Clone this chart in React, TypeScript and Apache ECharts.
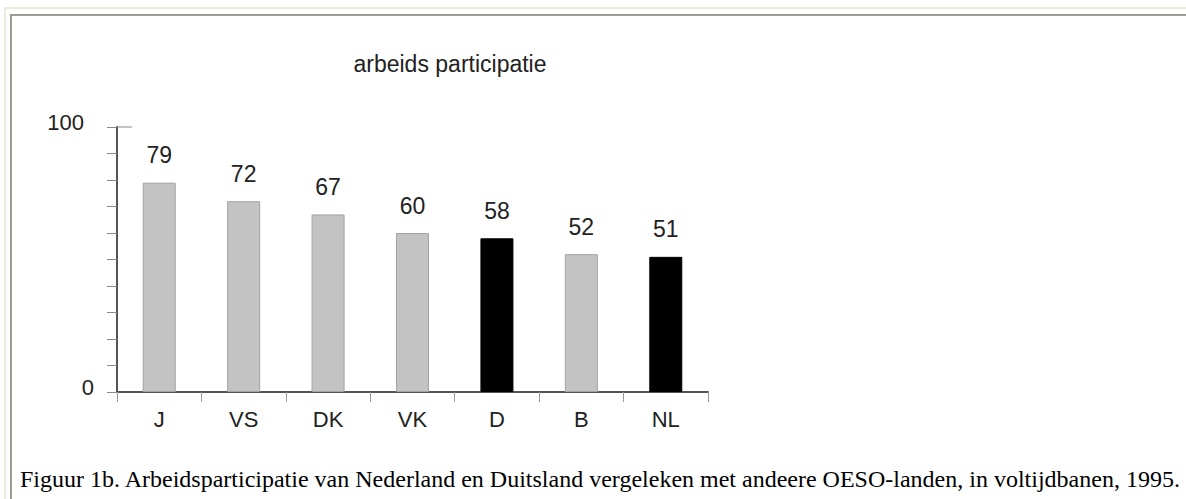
import React, { useEffect, useRef } from "react";
import * as echarts from "echarts";

const categories = ["J", "VS", "DK", "VK", "D", "B", "NL"];
const values = [79, 72, 67, 60, 58, 52, 51];
const highlighted = [false, false, false, false, true, false, true];
const yTickLabels = [0, 100];
const chartTitle = "arbeids participatie";
const caption =
  "Figuur 1b. Arbeidsparticipatie van Nederland en Duitsland vergeleken met andeere OESO-landen, in voltijdbanen, 1995.";

const SANS = "'Liberation Sans', Arial, Helvetica, sans-serif";
const SERIF = "'Liberation Serif', 'Times New Roman', serif";

export default function App() {
  const ref = useRef<HTMLDivElement>(null);

  useEffect(() => {
    if (!ref.current) return;
    const chart = echarts.init(ref.current, null, { renderer: "svg" });

    const data = values.map((v, i) => ({
      value: v,
      itemStyle: highlighted[i]
        ? { color: "#000000", borderColor: "#000000", borderWidth: 1 }
        : { color: "#c3c3c3", borderColor: "#a2a2a2", borderWidth: 1 },
    }));

    const frameAndText: any[] = [
      {
        type: "rect",
        silent: true,
        shape: { x: 5, y: 8, width: 1300, height: 600 },
        style: { fill: "none", stroke: "#eeebda", lineWidth: 2 },
      },
      {
        type: "rect",
        silent: true,
        shape: { x: 11, y: 15, width: 1300, height: 600 },
        style: { fill: "none", stroke: "#9c9c94", lineWidth: 2 },
      },
      {
        type: "text",
        silent: true,
        x: 450,
        y: 64,
        style: {
          text: chartTitle,
          fontSize: 23,
          fontFamily: SANS,
          fill: "#222222",
          align: "center",
          verticalAlign: "middle",
        },
      },
      {
        type: "text",
        silent: true,
        x: 20,
        y: 479,
        style: {
          text: caption,
          fontSize: 24,
          fontFamily: SERIF,
          fill: "#000000",
          align: "left",
          verticalAlign: "middle",
        },
      },
    ];

    chart.setOption({
      animation: false,
      backgroundColor: "#ffffff",
      grid: { left: 117, top: 127, width: 591, height: 265, containLabel: false },
      xAxis: {
        type: "category",
        data: categories,
        axisLine: { show: true, lineStyle: { color: "#555555", width: 2 } },
        axisTick: { show: true, alignWithLabel: false, length: 10, lineStyle: { color: "#9a9a9a", width: 1 } },
        axisLabel: { fontSize: 22, fontFamily: SANS, color: "#222222", margin: 16 },
        splitLine: { show: false },
      },
      yAxis: {
        type: "value",
        min: 0,
        max: 100,
        interval: 10,
        axisLine: { show: true, lineStyle: { color: "#555555", width: 2 } },
        axisTick: { show: true, inside: false, length: 10, lineStyle: { color: "#8a8a8a", width: 1 } },
        splitLine: { show: false },
        axisLabel: {
          margin: 23,
          formatter: (v: number) => {
            if (!yTickLabels.includes(v)) return "";
            return v === 0 ? "{z|" + v + "}" : "{h|" + v + "}";
          },
          rich: {
            z: { fontSize: 22, fontFamily: SANS, color: "#222222", padding: [0, 0, 10, 0] },
            h: { fontSize: 22, fontFamily: SANS, color: "#222222", padding: [0, 10, 10, 0] },
          },
        },
      },
      series: [
        {
          type: "bar",
          data,
          barWidth: 33,
          label: {
            show: true,
            position: "top",
            distance: 16,
            fontSize: 23,
            fontFamily: SANS,
            color: "#222222",
          },
        },
      ],
      graphic: frameAndText,
    });

    // top tick of the y axis extends to the right of the axis line
    const topY = chart.convertToPixel({ yAxisIndex: 0 }, yTickLabels[1]) as number;
    const axisX = chart.convertToPixel({ xAxisIndex: 0 }, categories[0]) as number;
    const gridLeft = axisX - 591 / categories.length / 2;
    chart.setOption({
      graphic: [
        ...frameAndText,
        {
          type: "line",
          silent: true,
          shape: { x1: gridLeft, y1: topY, x2: gridLeft + 15, y2: topY },
          style: { stroke: "#8a8a8a", lineWidth: 1 },
        },
      ],
    });

    return () => chart.dispose();
  }, []);

  return (
    <div
      ref={ref}
      style={{ position: "absolute", left: 0, top: 0, width: 1186, height: 499 }}
    />
  );
}
